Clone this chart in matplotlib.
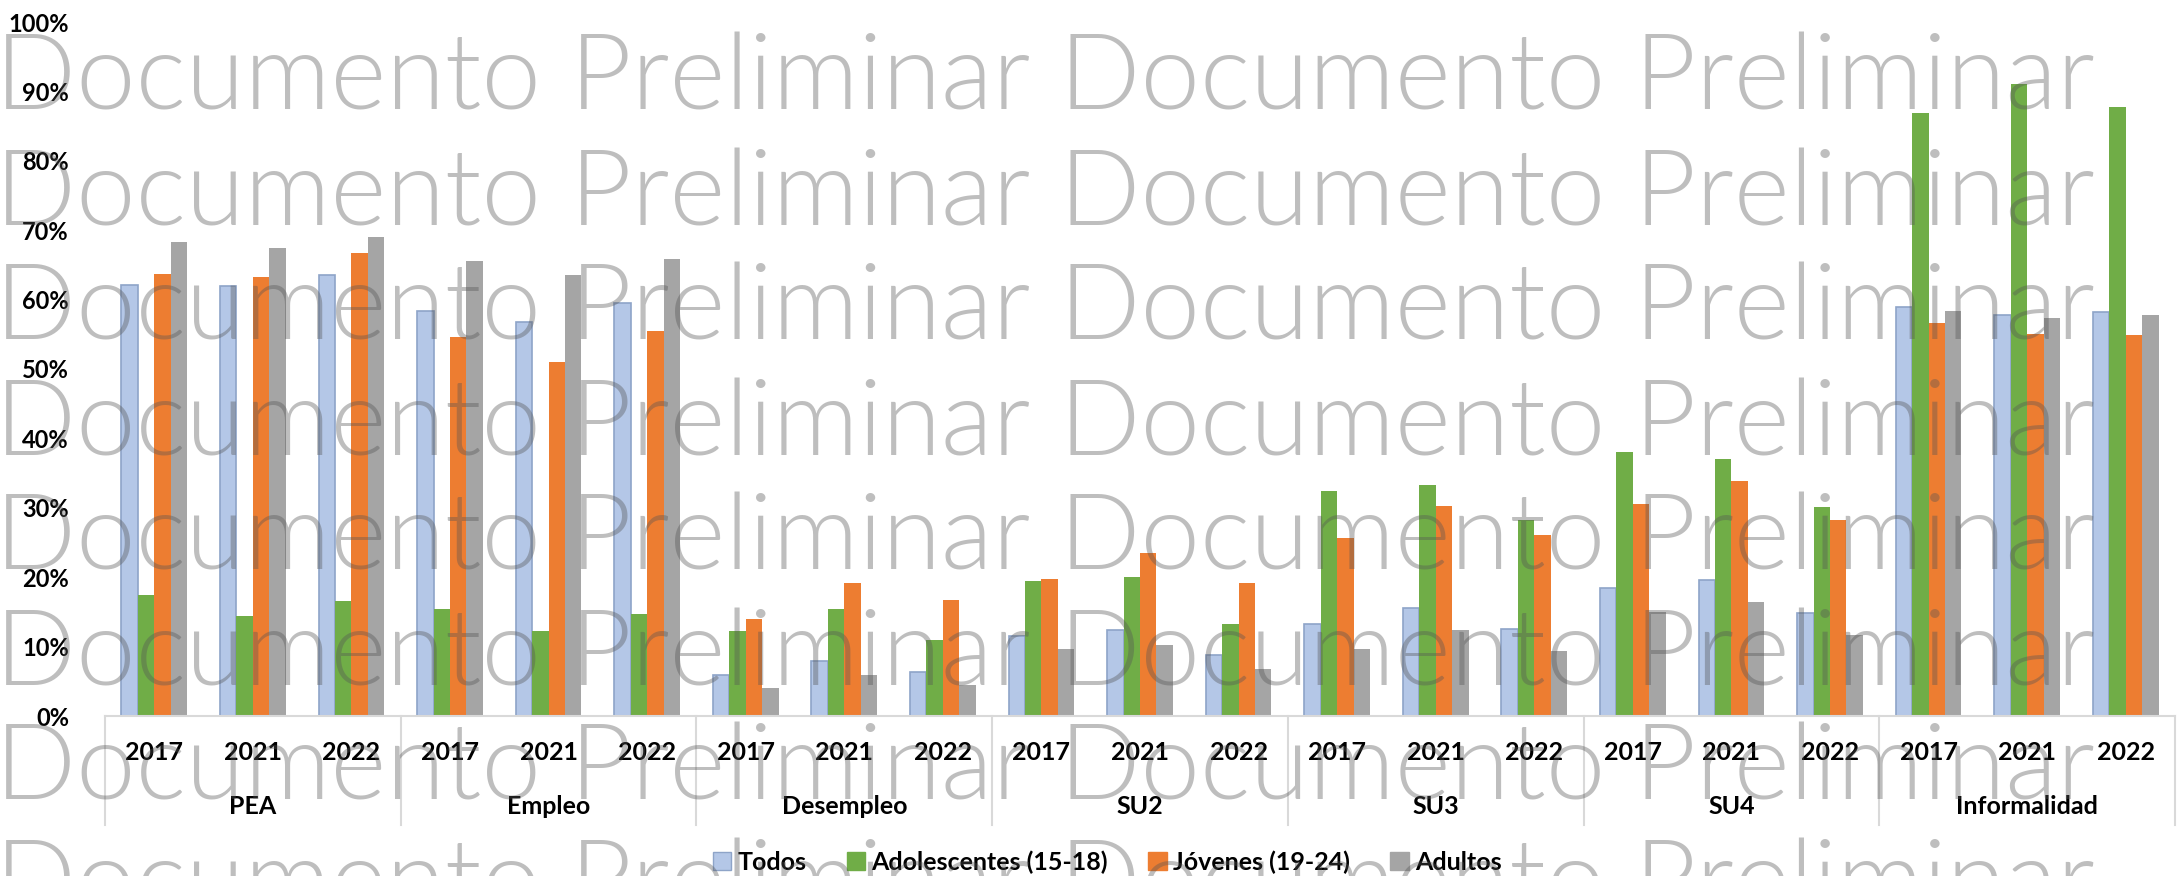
import numpy as np
import matplotlib
matplotlib.use("Agg")
import matplotlib.pyplot as plt
from matplotlib.patches import Patch

# Data
groups = ["PEA", "Empleo", "Desempleo", "SU2", "SU3", "SU4", "Informalidad"]
years = ["2017", "2021", "2022"]
series = ["Todos", "Adolescentes (15-18)", "Jóvenes (19-24)", "Adultos"]

todos = [62.1, 61.9, 63.6, 58.4, 56.8, 59.5, 5.9, 7.9, 6.3,
         11.5, 12.4, 8.8, 13.2, 15.6, 12.5, 18.4, 19.6, 14.8, 59.0, 57.8, 58.2]
adolescentes = [17.5, 14.4, 16.5, 15.4, 12.2, 14.7, 12.3, 15.4, 10.9,
                19.5, 20.1, 13.2, 32.4, 33.3, 28.3, 38.0, 37.0, 30.1, 86.9, 91.0, 87.8]
jovenes = [63.7, 63.2, 66.7, 54.6, 51.0, 55.5, 14.0, 19.2, 16.7,
           19.8, 23.5, 19.1, 25.7, 30.2, 26.1, 30.6, 33.8, 28.3, 56.7, 55.1, 54.9]
adultos = [68.3, 67.5, 69.0, 65.5, 63.6, 65.9, 4.1, 5.9, 4.4,
           9.6, 10.2, 6.8, 9.7, 12.4, 9.4, 15.0, 16.4, 11.6, 58.4, 57.3, 57.8]

colors = ["#B4C7E7", "#70AD47", "#ED7D31", "#A5A5A5"]
values = [todos, adolescentes, jovenes, adultos]

W, H = 2179, 876
fig = plt.figure(figsize=(W / 100, H / 100), dpi=100)
ax = fig.add_axes([105 / W, 1 - 716 / H, 2070 / W, 694 / H])

x = np.arange(len(groups) * len(years))
w = 0.167
for i, (vals, c) in enumerate(zip(values, colors)):
    ec = "#8EA4C8" if i == 0 else c
    ax.bar(x + (i - 1.5) * w, np.array(vals) / 100, w, color=c,
           edgecolor=ec, linewidth=1.2 if i == 0 else 0, zorder=2)

ax.set_xlim(-0.5, len(x) - 0.5)
ax.set_ylim(0, 1)
ax.set_yticks(np.arange(0, 1.01, 0.1))
ax.set_yticklabels([f"{int(round(v * 100))}%" for v in np.arange(0, 1.01, 0.1)],
                   fontsize=17, fontweight="bold", family="Lato")
ax.tick_params(axis="y", length=0, pad=26)
ax.set_xticks([])
for s in ["top", "right", "left"]:
    ax.spines[s].set_visible(False)
ax.spines["bottom"].set_color("#D9D9D9")
ax.spines["bottom"].set_linewidth(1.5)

# two-level category axis
trans = ax.get_xaxis_transform()
low = -109 / 694
for k in range(len(x)):
    ax.text(x[k], -36 / 694, years[k % 3], transform=trans, ha="center",
            va="center", fontsize=18, fontweight="bold", family="Lato")
for g, name in enumerate(groups):
    ax.text(g * 3 + 1, -91 / 694, name, transform=trans, ha="center",
            va="center", fontsize=18, fontweight="bold", family="Lato")
for b in range(len(groups) + 1):
    ax.plot([b * 3 - 0.5, b * 3 - 0.5], [0, low], transform=trans,
            color="#D9D9D9", lw=1.5, clip_on=False)

handles = [Patch(facecolor=c, edgecolor=("#8EA4C8" if i == 0 else c))
           for i, c in enumerate(colors)]
fig.legend(handles, series, loc="center", bbox_to_anchor=(1107 / W, 1 - 862 / H),
           ncol=4, frameon=False, handlelength=0.75, handleheight=0.75,
           handletextpad=0.25, columnspacing=1.6,
           prop={"size": 18, "weight": "bold", "family": "Lato"})

# watermark
wm = "Documento Preliminar Documento Preliminar"
t = fig.text(-5 / W, 1 - 110 / H, wm, fontsize=80, family="Lato",
             fontweight=300, color="#555555", alpha=0.38, va="baseline")
fig.canvas.draw()
width = t.get_window_extent().width
size = 80 * 2100 / width
t.remove()
for r in range(8):
    fig.text(-5 / W, 1 - (110 + 115 * r) / H, wm, fontsize=size, family="Lato",
             fontweight=300, color="#555555", alpha=0.38, va="baseline",
             zorder=10)

fig.savefig("out.png", dpi=100)
